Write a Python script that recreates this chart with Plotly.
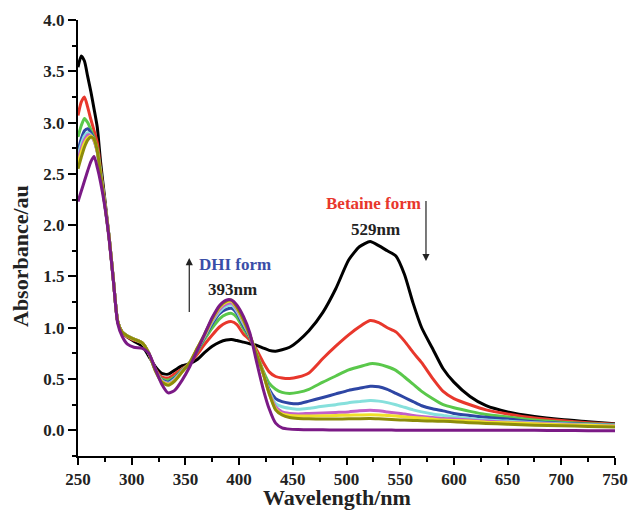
import plotly.graph_objects as go

wavelength = [250,253,256,259,262,265,268,271,275,279,283,287,291,296,302,310,316,322,328,334,
              340,347,354,361,368,375,382,388,393,398,404,410,416,422,428,434,440,447,455,465,
              478,490,502,512,522,530,538,546,554,562,570,580,590,600,615,630,650,675,700,725,750]

s_black = [3.54,3.65,3.60,3.45,3.30,3.13,2.95,2.62,
           2.25,1.88,1.46,1.06,0.96,
           0.91,0.87,0.82,0.72,0.62,0.555,0.548,
           0.585,0.63,0.65,0.69,0.76,0.82,0.86,0.88,0.885,
           0.875,0.86,0.845,0.83,0.805,0.78,0.772,0.785,
           0.81,0.87,0.97,1.15,1.38,1.66,1.79,1.84,
           1.80,1.75,1.70,1.52,1.24,1.00,0.80,0.60,0.47,
           0.33,0.24,0.18,0.135,0.105,0.085,0.065]
s_red = [3.07,3.20,3.25,3.15,3.03,2.92,2.80,2.55,
         2.22,1.88,1.46,1.06,0.96,
         0.91,0.88,0.85,0.75,0.60,0.52,0.51,
         0.55,0.60,0.65,0.74,0.84,0.93,1.01,1.05,1.06,
         1.03,0.94,0.88,0.79,0.67,0.57,0.525,0.51,
         0.505,0.52,0.56,0.70,0.82,0.93,1.01,1.07,
         1.05,1.00,0.96,0.87,0.76,0.66,0.51,0.38,0.31,
         0.25,0.20,0.16,0.12,0.095,0.075,0.06]
s_green = [2.86,2.97,3.04,3.00,2.93,2.85,2.74,2.53,
           2.21,1.88,1.46,1.06,0.96,
           0.92,0.89,0.85,0.75,0.59,0.50,0.49,
           0.52,0.59,0.65,0.77,0.89,1.00,1.09,1.13,1.14,
           1.10,0.99,0.90,0.76,0.59,0.46,0.40,0.37,
           0.36,0.37,0.40,0.47,0.53,0.59,0.62,0.65,
           0.645,0.62,0.585,0.52,0.45,0.38,0.31,0.25,0.22,
           0.185,0.155,0.13,0.10,0.08,0.065,0.055]
s_blue = [2.73,2.84,2.92,2.94,2.90,2.83,2.72,2.52,
          2.20,1.88,1.46,1.06,0.96,
          0.92,0.89,0.85,0.75,0.59,0.49,0.47,
          0.51,0.58,0.655,0.78,0.91,1.04,1.14,1.18,1.19,
          1.14,1.02,0.91,0.75,0.57,0.40,0.31,0.28,
          0.265,0.26,0.285,0.32,0.355,0.39,0.41,0.43,
          0.425,0.40,0.36,0.32,0.28,0.24,0.21,0.19,0.165,
          0.145,0.128,0.11,0.085,0.07,0.06,0.05]
s_cyan = [2.68,2.79,2.87,2.90,2.88,2.82,2.71,2.51,
          2.20,1.88,1.46,1.06,0.96,
          0.92,0.89,0.85,0.75,0.59,0.485,0.46,
          0.50,0.58,0.66,0.79,0.92,1.06,1.16,1.21,1.22,
          1.16,1.04,0.92,0.75,0.57,0.38,0.26,0.23,
          0.215,0.205,0.215,0.235,0.25,0.27,0.28,0.29,
          0.285,0.27,0.25,0.225,0.20,0.18,0.16,0.145,0.13,
          0.115,0.10,0.09,0.075,0.065,0.055,0.05]
s_magenta = [2.64,2.75,2.83,2.88,2.87,2.82,2.71,2.50,
             2.20,1.88,1.46,1.06,0.96,
             0.92,0.89,0.85,0.75,0.59,0.48,0.455,
             0.49,0.575,0.66,0.795,0.93,1.07,1.18,1.23,1.24,
             1.18,1.06,0.92,0.75,0.57,0.37,0.23,0.18,
             0.165,0.16,0.165,0.17,0.175,0.18,0.19,0.195,
             0.19,0.18,0.17,0.16,0.145,0.135,0.125,0.115,0.11,
             0.10,0.09,0.08,0.07,0.06,0.05,0.045]
s_yellow = [2.60,2.71,2.80,2.85,2.87,2.83,2.72,2.50,
            2.20,1.88,1.46,1.06,0.96,
            0.92,0.89,0.85,0.75,0.59,0.475,0.45,
            0.485,0.57,0.66,0.80,0.93,1.08,1.20,1.25,1.26,
            1.19,1.07,0.93,0.75,0.57,0.36,0.21,0.16,
            0.145,0.14,0.14,0.142,0.145,0.148,0.15,0.152,
            0.15,0.145,0.14,0.132,0.125,0.12,0.11,0.10,0.095,
            0.09,0.08,0.075,0.065,0.055,0.05,0.04]
s_olive = [2.55,2.66,2.76,2.83,2.86,2.84,2.72,2.50,
           2.20,1.88,1.46,1.06,0.96,
           0.92,0.89,0.85,0.75,0.58,0.47,0.44,
           0.48,0.57,0.66,0.80,0.94,1.09,1.21,1.26,1.27,
           1.20,1.08,0.93,0.75,0.57,0.36,0.20,0.15,
           0.125,0.116,0.113,0.11,0.11,0.112,0.114,0.115,
           0.112,0.108,0.104,0.10,0.097,0.094,0.09,0.088,0.085,
           0.075,0.068,0.06,0.05,0.045,0.038,0.032]
s_purple = [2.23,2.33,2.43,2.53,2.62,2.67,2.56,2.42,
            2.18,1.86,1.45,1.04,0.92,
            0.84,0.81,0.80,0.75,0.60,0.45,0.365,
            0.39,0.49,0.62,0.78,0.94,1.10,1.22,1.27,1.27,
            1.22,1.11,0.95,0.68,0.42,0.21,0.07,0.025,
            0.012,0.008,0.006,0.005,0.004,0.004,0.003,0.003,
            0.003,0.003,0.002,0.002,0.002,0.001,0.001,0.0,0.0,
            0.0,0.0,0.0,0.0,-0.002,-0.003,-0.004]

series = [s_black, s_red, s_green, s_blue, s_cyan, s_magenta, s_yellow, s_olive, s_purple]
colors = ["#000000", "#e8372c", "#5ac84b", "#2e46a4", "#86e0dc", "#c25fc8", "#f0e12a", "#8c8c0a", "#7b1a86"]

x_ticks = [250, 300, 350, 400, 450, 500, 550, 600, 650, 700, 750]
y_ticks = [0.0, 0.5, 1.0, 1.5, 2.0, 2.5, 3.0, 3.5, 4.0]

fig = go.Figure()
for ys, c in zip(series, colors):
    fig.add_trace(go.Scatter(x=wavelength, y=ys, mode="lines",
                             line=dict(color=c, width=3, shape="spline", smoothing=0.6),
                             showlegend=False, hoverinfo="skip"))

serif = "Liberation Serif, Times New Roman, serif"
tickfont = dict(family=serif, size=17, color="#222", weight="bold")

fig.update_layout(
    width=630, height=511,
    margin=dict(l=78, r=15, t=20, b=55),
    paper_bgcolor="white", plot_bgcolor="white",
    xaxis=dict(range=[250, 750], tickvals=x_ticks, ticks="outside", ticklen=7, tickwidth=1.5,
               tickcolor="black", showline=True, linecolor="black", linewidth=2, showgrid=False,
               zeroline=False, tickfont=tickfont, automargin=False,
               minor=dict(dtick=25, tick0=250, ticks="outside", ticklen=4, tickwidth=1.5, tickcolor="black")),
    yaxis=dict(range=[-0.25, 4.0], tickvals=y_ticks, tickformat=".1f", ticks="outside", ticklen=8,
               tickwidth=1.5, tickcolor="black", showline=True, linecolor="black", linewidth=2,
               showgrid=False, zeroline=False, tickfont=tickfont, automargin=False,
               minor=dict(dtick=0.25, tick0=0, ticks="outside", ticklen=4, tickwidth=1.5, tickcolor="black")),
)

title_font = dict(family=serif, size=22, color="#222", weight="bold")
fig.add_annotation(xref="paper", yref="paper", x=(336.5 - 78) / 537, y=(456 - 511) / 436,
                   text="Wavelength/nm", showarrow=False, font=title_font,
                   xanchor="center", yanchor="bottom", borderpad=0)
fig.add_annotation(xref="paper", yref="paper", x=(20 - 78) / 537, y=(456 - 256) / 436,
                   text="Absorbance/au", showarrow=False, font=title_font, textangle=-90,
                   xanchor="center", yanchor="middle", borderpad=0)

ann_font = dict(family=serif, size=17, weight="bold")
fig.add_annotation(x=524.8, y=2.215, text="Betaine form", showarrow=False,
                   font=dict(**ann_font, color="#e8372c"))
fig.add_annotation(x=526.7, y=1.96, text="529nm", showarrow=False, font=dict(**ann_font, color="#222"))
fig.add_annotation(x=396.4, y=1.62, text="DHI form", showarrow=False, font=dict(**ann_font, color="#3a4ea8"))
fig.add_annotation(x=393.6, y=1.375, text="393nm", showarrow=False, font=dict(**ann_font, color="#222"))

fig.add_annotation(x=574, y=1.65, ax=574, ay=2.25, xref="x", yref="y", axref="x", ayref="y",
                   text="", showarrow=True, arrowhead=2, arrowsize=1.2, arrowwidth=1.2, arrowcolor="#222")
fig.add_annotation(x=353.6, y=1.68, ax=353.6, ay=1.14, xref="x", yref="y", axref="x", ayref="y",
                   text="", showarrow=True, arrowhead=2, arrowsize=1.2, arrowwidth=1.2, arrowcolor="#222")

fig.write_html("out.html", config={"displayModeBar": False},
               post_script="document.body.style.margin='0px';document.body.style.overflow='hidden';")
